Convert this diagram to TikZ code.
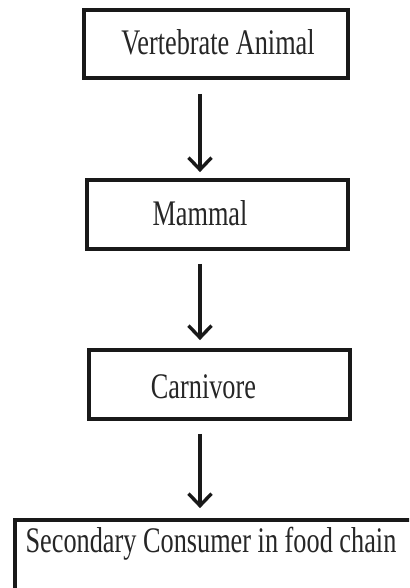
\documentclass[tikz,border=0pt]{standalone}
\usepackage{fontspec}
\usepackage{graphicx}
\setmainfont{Liberation Serif}
\usetikzlibrary{arrows.meta}
\newcommand\hsq[1]{\scalebox{0.73}[1]{#1}}
\begin{document}
\begin{tikzpicture}[x=1pt,y=-1pt,
  box/.style={draw=black!90, line width=3.8pt, rectangle, inner sep=0pt},
  lbl/.style={anchor=base, inner sep=0pt, text=black!85, font=\fontsize{36}{40}\selectfont},
  arr/.style={draw=black!90, line width=3.4pt, -{Straight Barb[length=12pt,width=23pt,line width=3.4pt]}}]
\useasboundingbox (0,0) rectangle (409,588);
\clip (0,0) rectangle (409,588);
\fill[white] (0,0) rectangle (409,588);
\node[box, minimum width=264pt, minimum height=68pt] (b1) at (216,44) {};
\node[box, minimum width=261pt, minimum height=69pt] (b2) at (217.5,214.5) {};
\node[box, minimum width=261pt, minimum height=69pt] (b3) at (219.5,384.5) {};
\node[box, minimum width=415pt, minimum height=69.5pt] (b4) at (222.5,554.75) {};
\node[lbl] (t1) at (218,55) {\hsq{Vertebrate Animal}};
\node[lbl] (t2) at (200,225) {\hsq{Mammal}};
\node[lbl] (t3) at (203.5,398) {\hsq{Carnivore}};
\node[lbl] (t4) at (211,552) {\hsq{Secondary Consumer in food chain}};
\coordinate (ax) at (200,0);
\draw[arr, shorten <=14pt, shorten >=6pt] (b1.south -| ax) -- (b2.north -| ax);
\draw[arr, shorten <=13pt, shorten >=8pt] (b2.south -| ax) -- (b3.north -| ax);
\draw[arr, shorten <=13pt, shorten >=10pt] (b3.south -| ax) -- (b4.north -| ax);
\end{tikzpicture}
\end{document}
